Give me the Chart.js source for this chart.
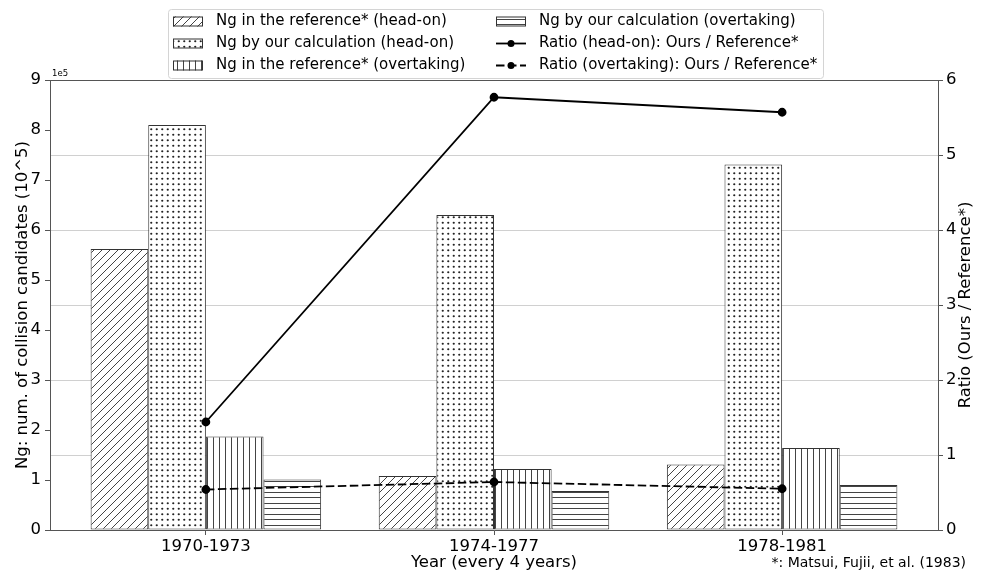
<!DOCTYPE html>
<html>
<head>
<meta charset="utf-8">
<script src="https://cdn.jsdelivr.net/npm/chart.js@4.4.0/dist/chart.umd.min.js"></script>
<style>
  html, body { margin: 0; padding: 0; background: #fff; }
  #wrap { width: 983px; height: 573px; }
</style>
</head>
<body>
<div id="wrap"><canvas id="chart" width="983" height="573"></canvas></div>
<script>
// Categories (4-year periods)
const periods = ['1970-1973', '1974-1977', '1978-1981'];

// Ng values (number of collision candidates)
const refHeadOn = [562000, 108000, 131000];
const oursHeadOn = [810000, 630000, 731000];
const refOvertaking = [187000, 122000, 164000];
const oursOvertaking = [101000, 78000, 90000];

// Ratios Ours / Reference
const ratioHeadOn = [1.44, 5.77, 5.57];
const ratioOvertaking = [0.54, 0.64, 0.55];

// Left axis tick labels (units of 1e5)
const leftTicks = [0, 1, 2, 3, 4, 5, 6, 7, 8, 9];

const FONT = "'DejaVu Sans', sans-serif";
Chart.defaults.font.family = FONT;
Chart.defaults.color = '#000';

// Hatch patterns on a white base
function hatch(kind) {
  const c = document.createElement('canvas');
  const s = kind === 'diag' ? 8 : (kind === 'vlines' ? 6 : 11);
  c.width = s; c.height = s;
  const g = c.getContext('2d');
  g.fillStyle = '#fff';
  g.fillRect(0, 0, s, s);
  g.strokeStyle = '#444';
  g.fillStyle = '#444';
  g.lineWidth = 1;
  if (kind === 'diag') {
    g.beginPath();
    g.moveTo(0, s); g.lineTo(s, 0);
    g.moveTo(-2, 2); g.lineTo(2, -2);
    g.moveTo(s - 2, s + 2); g.lineTo(s + 2, s - 2);
    g.stroke();
  } else if (kind === 'dots') {
    g.fillStyle = '#222';
    [[2.75, 2.75], [8.25, 2.75], [2.75, 8.25], [8.25, 8.25]].forEach(([x, y]) => {
      g.beginPath(); g.arc(x, y, 1.1, 0, Math.PI * 2); g.fill();
    });
  } else if (kind === 'vlines') {
    g.fillRect(3, 0, 1, s);
  } else {
    g.fillRect(0, 2, s, 1);
    g.fillRect(0, 8, s, 1);
  }
  return g.createPattern(c, 'repeat');
}

const pts = vals => periods.map((p, i) => ({ x: i, y: vals[i] }));

const barBase = {
  type: 'bar', yAxisID: 'y', borderColor: '#333', borderWidth: 1,
  borderSkipped: false, categoryPercentage: 0.8, barPercentage: 1.0, order: 1
};
const lineBase = {
  type: 'line', yAxisID: 'y1', borderColor: '#000', backgroundColor: '#000',
  borderWidth: 1.8, pointRadius: 3.5, pointHoverRadius: 3.5, fill: false, tension: 0, order: 0
};

const datasets = [
  { ...barBase, label: 'Ng in the reference* (head-on)', data: pts(refHeadOn), backgroundColor: hatch('diag') },
  { ...barBase, label: 'Ng by our calculation (head-on)', data: pts(oursHeadOn), backgroundColor: hatch('dots') },
  { ...barBase, label: 'Ng in the reference* (overtaking)', data: pts(refOvertaking), backgroundColor: hatch('vlines') },
  { ...barBase, label: 'Ng by our calculation (overtaking)', data: pts(oursOvertaking), backgroundColor: hatch('hlines') },
  { ...lineBase, label: 'Ratio (head-on): Ours / Reference*', data: pts(ratioHeadOn) },
  { ...lineBase, label: 'Ratio (overtaking): Ours / Reference*', data: pts(ratioOvertaking), borderDash: [8.5, 3.5] }
];

// Legend (2 columns), axis titles, footnote, offset label and top spine
const extras = {
  id: 'extras',
  afterDraw(chart) {
    const { ctx, chartArea: a } = chart;
    ctx.save();
    ctx.strokeStyle = '#555';
    ctx.lineWidth = 1;
    ctx.beginPath();
    ctx.moveTo(a.left, a.top + 0.5); ctx.lineTo(a.right, a.top + 0.5);
    ctx.stroke();

    // legend frame
    ctx.fillStyle = 'rgba(255,255,255,0.85)';
    ctx.strokeStyle = '#d4d4d4';
    ctx.beginPath();
    ctx.roundRect(168.5, 9.5, 655, 69, 3);
    ctx.fill(); ctx.stroke();

    const rows = [21.5, 43.5, 65.5];
    const cols = [{ ix: 173, tx: 216 }, { ix: 496, tx: 539 }];
    ctx.font = '15px ' + FONT;
    ctx.textBaseline = 'middle';
    ctx.textAlign = 'left';
    chart.data.datasets.forEach((ds, k) => {
      const col = cols[Math.floor(k / 3)];
      const y = rows[k % 3];
      if (ds.type === 'bar') {
        ctx.fillStyle = ds.backgroundColor;
        ctx.fillRect(col.ix, y - 5, 30, 10);
        ctx.strokeStyle = '#333';
        ctx.setLineDash([]);
        ctx.strokeRect(col.ix + 0.5, y - 4.5, 29, 9);
      } else {
        ctx.strokeStyle = '#000';
        ctx.lineWidth = 1.8;
        ctx.setLineDash(ds.borderDash || []);
        ctx.beginPath();
        ctx.moveTo(col.ix, y); ctx.lineTo(col.ix + 30, y);
        ctx.stroke();
        ctx.setLineDash([]);
        ctx.fillStyle = '#000';
        ctx.beginPath(); ctx.arc(col.ix + 15, y, 3.5, 0, Math.PI * 2); ctx.fill();
        ctx.lineWidth = 1;
      }
      ctx.fillStyle = '#000';
      ctx.fillText(ds.label, col.tx, y);
    });

    // axis titles
    const cy = (a.top + a.bottom) / 2;
    ctx.font = '16.5px ' + FONT;
    ctx.textAlign = 'center';
    ctx.fillText('Year (every 4 years)', (a.left + a.right) / 2, 563);
    ctx.save();
    ctx.translate(23, cy); ctx.rotate(-Math.PI / 2);
    ctx.fillText('Ng: num. of collision candidates (10^5)', 0, 0);
    ctx.restore();
    ctx.save();
    ctx.translate(966, cy); ctx.rotate(-Math.PI / 2);
    ctx.fillText('Ratio (Ours / Reference*)', 0, 0);
    ctx.restore();

    // footnote and offset label
    ctx.font = '14px ' + FONT;
    ctx.textAlign = 'right';
    ctx.fillText('*: Matsui, Fujii, et al. (1983)', 966, 563);
    ctx.font = '8.5px ' + FONT;
    ctx.textAlign = 'left';
    ctx.fillText('1e5', a.left + 2, a.top - 6);
    ctx.restore();
  }
};

new Chart(document.getElementById('chart').getContext('2d'), {
  type: 'bar',
  data: { datasets },
  options: {
    responsive: false,
    animation: false,
    events: [],
    layout: { padding: { top: 80, left: 0, right: 0, bottom: 0 } },
    plugins: { legend: { display: false }, tooltip: { enabled: false } },
    scales: {
      x: {
        type: 'linear', min: -0.541, max: 2.541, offset: false,
        grid: { drawOnChartArea: false, tickLength: 5, color: '#555', offset: false },
        border: { color: '#555', z: 1 },
        afterBuildTicks: s => { s.ticks = periods.map((p, i) => ({ value: i })); },
        ticks: { callback: v => periods[v], font: { size: 16.5 }, color: '#000', padding: 2, maxRotation: 0, autoSkip: false },
        afterFit: s => { s.height = 43; }
      },
      y: {
        position: 'left', min: 0, max: 900000,
        afterBuildTicks: s => { s.ticks = leftTicks.map(t => ({ value: t * 100000 })); },
        ticks: { callback: v => Math.round(v / 100000), font: { size: 16.5 }, color: '#000', padding: 4 },
        grid: { drawOnChartArea: false, tickLength: 5, color: '#555' },
        border: { color: '#555', z: 1 },
        afterFit: s => { s.width = 50; }
      },
      y1: {
        position: 'right', min: 0, max: 6,
        ticks: { stepSize: 1, font: { size: 16.5 }, color: '#000', padding: 3 },
        grid: { drawOnChartArea: true, color: '#d0d0d0', tickColor: '#555', tickLength: 5 },
        border: { color: '#555', z: 1 },
        afterFit: s => { s.width = 45; }
      }
    }
  },
  plugins: [extras]
});
</script>
</body>
</html>
